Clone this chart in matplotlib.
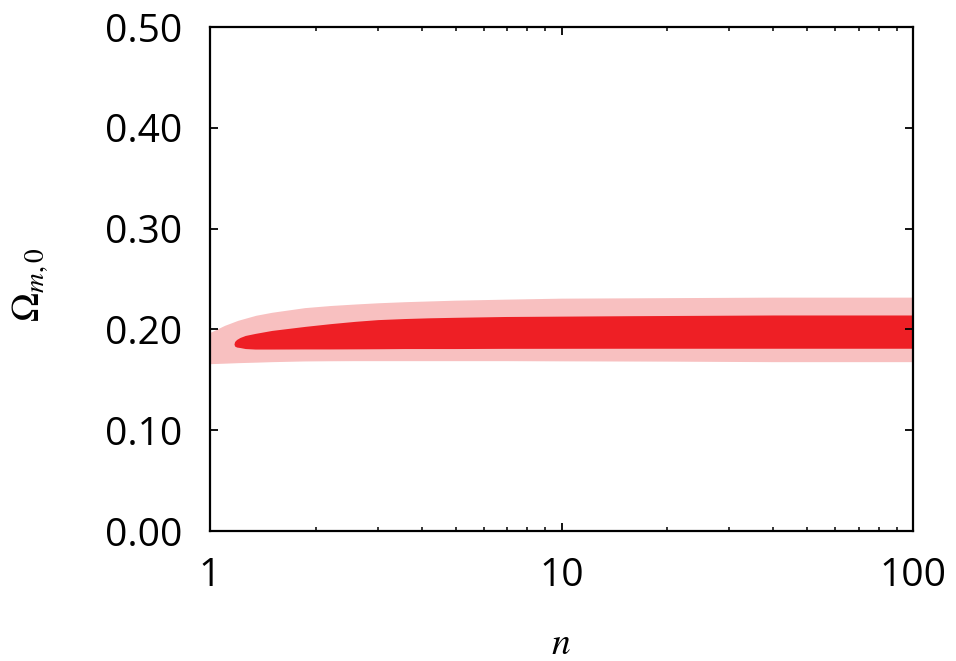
import matplotlib
matplotlib.use("Agg")
import matplotlib.pyplot as plt
import numpy as np

# Data (boundaries of the confidence regions)
n_outer = [1.0, 1.1, 1.2, 1.35, 1.5, 1.86, 2.2, 2.59, 3.0, 3.59, 4.98, 6.91, 10.0, 20.0, 40.0, 100.0]
outer_upper = [0.197, 0.204, 0.209, 0.214, 0.217, 0.2216, 0.2237, 0.2252, 0.2264, 0.2275, 0.229, 0.230, 0.231, 0.2315, 0.232, 0.232]
outer_lower = [0.166, 0.1665, 0.167, 0.1675, 0.168, 0.1687, 0.1689, 0.169, 0.169, 0.169, 0.169, 0.169, 0.1688, 0.1685, 0.168, 0.168]

n_inner = [1.17, 1.175, 1.19, 1.217, 1.26, 1.343, 1.5, 1.864, 2.2, 2.587, 3.0, 3.59, 4.2, 4.98, 6.91, 15.6, 40.0, 100.0]
inner_upper = [0.1855, 0.188, 0.190, 0.192, 0.194, 0.196, 0.199, 0.203, 0.2057, 0.208, 0.2097, 0.2108, 0.2115, 0.212, 0.2128, 0.2136, 0.2143, 0.2143]
inner_lower = [0.1855, 0.1835, 0.1825, 0.182, 0.181, 0.1805, 0.1805, 0.1806, 0.1806, 0.1807, 0.1808, 0.181, 0.181, 0.181, 0.1812, 0.1813, 0.1813, 0.1813]

y_ticks = [0.0, 0.1, 0.2, 0.3, 0.4, 0.5]
y_ticklabels = ["0.00", "0.10", "0.20", "0.30", "0.40", "0.50"]
x_ticks = [1, 10, 100]
x_ticklabels = ["1", "10", "100"]

plt.rcParams['mathtext.fontset'] = 'stix'
fig = plt.figure(figsize=(9.56, 6.61), dpi=100)
ax = fig.add_axes([210/956, 1-531/661, (913-210)/956, (531-27)/661])

ax.fill_between(n_outer, outer_lower, outer_upper, color='#f8c0c0', lw=0)
ax.fill_between(n_inner, inner_lower, inner_upper, color='#ee1f25', lw=0)

ax.set_xscale('log')
ax.set_xlim(1, 100)
ax.set_ylim(0, 0.5)
ax.set_yticks(y_ticks)
ax.set_yticklabels(y_ticklabels)
ax.set_xticks(x_ticks)
ax.set_xticklabels(x_ticklabels)

for lab in ax.get_xticklabels() + ax.get_yticklabels():
    lab.set_fontfamily('Open Sans')
    lab.set_fontsize(28)

ax.tick_params(axis='both', which='major', direction='in', length=6, width=1.3,
               top=True, right=True)
ax.tick_params(axis='both', which='minor', direction='in', length=2.6, width=1.1,
               top=True, right=True)
ax.tick_params(axis='y', which='major', pad=20)
ax.tick_params(axis='x', which='major', pad=19)
for s in ax.spines.values():
    s.set_linewidth(1.6)

fig.text(30/956, 1-285/661, r'$\Omega_{m,0}$', fontsize=28, rotation=90,
         ha='center', va='center')
fig.text(561/956, 1-644/661, r'$n$', fontsize=27, ha='center', va='center')

fig.savefig('out.png', dpi=100)
